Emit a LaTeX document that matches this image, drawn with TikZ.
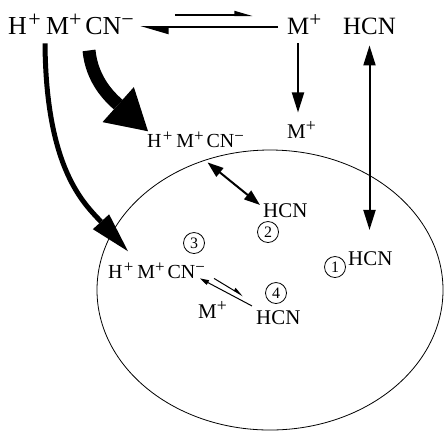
\documentclass[tikz,border=0pt]{standalone}
\usepackage{fontspec}
\setmainfont{Liberation Serif}
\usetikzlibrary{arrows.meta, shapes.geometric, calc, positioning}
\newcommand{\up}[1]{\raisebox{.3em}{\scalebox{.85}{#1}}}
\newcommand{\hmcn}{H\kern.06em\up{+}\kern.2em M\up{+}\kern.15em CN\up{−}}
\tikzset{
	bigtxt/.style={font=\fontsize{25}{30}\selectfont, inner sep=0pt, anchor=base west},
	smalltxt/.style={font=\fontsize{21}{25}\selectfont, inner sep=0pt, anchor=base west},
	num/.style={draw, circle, line width=0.8pt, minimum size=21bp, inner sep=0pt,
		font=\fontsize{16}{16}\selectfont},
}

\begin{document}
\begin{tikzpicture}[x=1bp, y=-1bp]
	\useasboundingbox (0,0) rectangle (444,431);
	% celula
	\node[draw, ellipse, line width=0.8pt, minimum width=346bp, minimum height=280bp,
		inner sep=0pt] (cell) at (270,290) {};
	% especies
	\node[bigtxt, font=\fontsize{26}{30}\selectfont] (htop) at (8,34) {\hmcn};
	\node[bigtxt] (mtop) at (287,34) {M\up{+}};
	\node[bigtxt] (hcntop) at (343,34) {HCN};
	\node[smalltxt, font=\fontsize{20}{24}\selectfont] (hmid) at (147,147) {\hmcn};
	\node[smalltxt] (mmid) at (287,138) {M\up{+}};
	\node[smalltxt] (hcnmid) at (263,217) {HCN};
	\node[smalltxt] (hcnone) at (348,265) {HCN};
	\node[smalltxt, font=\fontsize{20}{24}\selectfont] (hlow) at (108,278) {\hmcn};
	\node[smalltxt] (mlow) at (198,318) {M\up{+}};
	\node[smalltxt] (hcnfour) at (256,324) {HCN};
	\node[num] (one) at (335,267) {1};
	\node[num] (two) at (268,232) {2};
	\node[num] (three) at (194,243) {3};
	\node[num] (four) at (276,293) {4};
	% equilibrio arriba
	\draw[line width=2bp, -{Triangle[left, length=15bp, width=8bp]},
		shorten <=41bp, shorten >=34bp] (htop.east |- 0,15) -- (mtop.west |- 0,15);
	\draw[line width=2bp, -{Triangle[left, length=25bp, width=14bp]},
		shorten <=9bp, shorten >=6bp] (mtop.west |- 0,27) -- (htop.east |- 0,27);
	% flechas verticales
	\draw[line width=2bp, -{Triangle[length=20bp, width=12bp]},
		shorten <=9bp, shorten >=9bp] (mtop.south -| 298,0) -- (mmid.north -| 298,0);
	\draw[line width=2bp, {Triangle[length=20bp, width=12bp]}-{Triangle[length=20bp, width=12bp]},
		shorten <=11bp, shorten >=21bp] (hcntop.south) -- (hcnone.north -| hcntop.south);
	\draw[line width=2bp, {Triangle[length=16bp, width=11bp]}-{Triangle[length=16bp, width=11bp]}]
		($(hmid.south)+(12,15)$) -- ($(hcnmid.north west)+(-3,2)$);
	% flechas curvas
	\draw[line width=13bp, -{Triangle[length=40bp, width=47bp, line width=0pt]}]
		($(htop.south west)+(81,16)$) .. controls +(3,30) and +(-38,-34) .. ($(hmid.north west)+(1,0)$);
	\draw[line width=5bp, -{Triangle[length=40bp, width=22bp, line width=0pt]}]
		($(htop.south west)+(37,9)$) .. controls +(1,127) and +(-43,-47) .. ($(hlow.north west)+(20,-11)$);
	% equilibrio abajo
	\draw[line width=1bp, -{Triangle[length=9bp, width=5bp]}]
		($(hcnfour.north west)+(-4,-4)$) -- ($(hlow.south east)+(-5,0)$);
	\draw[line width=1bp, -{Triangle[left, length=9bp, width=6bp]}]
		($(hlow.south east)+(9,0)$) -- ($(hcnfour.north west)+(-13,-14)$);
\end{tikzpicture}
\end{document}
